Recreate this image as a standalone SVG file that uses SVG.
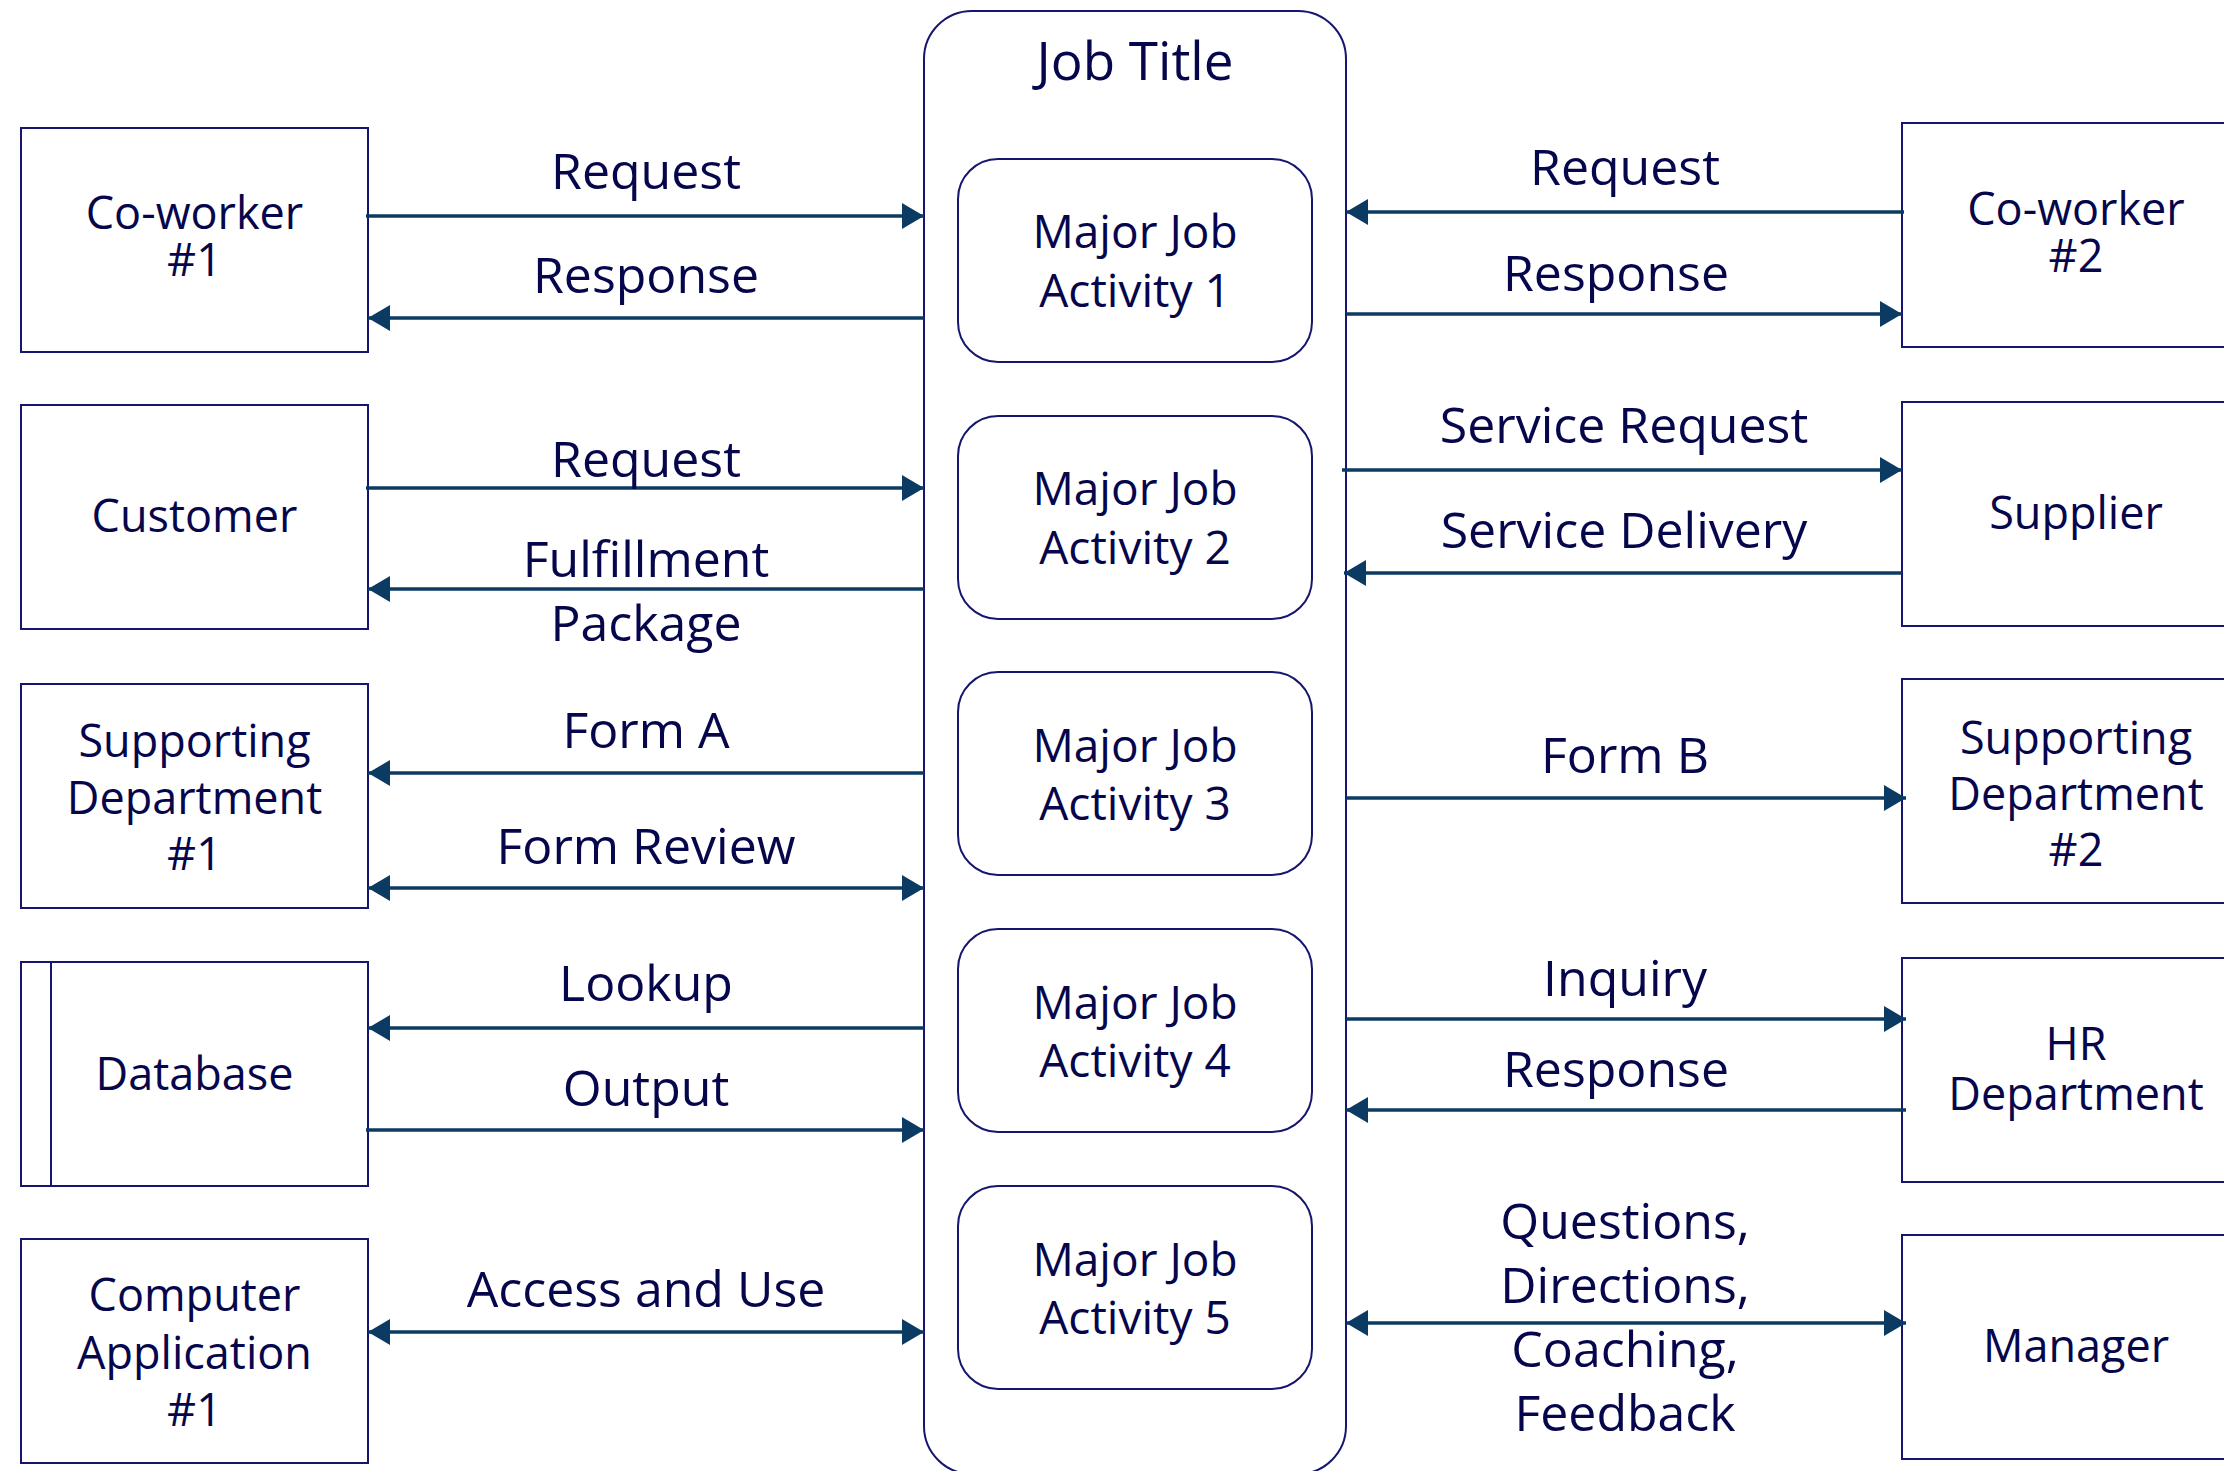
<svg xmlns="http://www.w3.org/2000/svg" width="2224" height="1471" viewBox="0 0 2224 1471">
<style>
  .box { fill: #ffffff; stroke: #16166e; stroke-width: 2; }
  .rbox { fill: #ffffff; stroke: #16166e; stroke-width: 2; }
  .conn { stroke: #0b3a63; stroke-width: 3.4; fill: none; }
  text { font-family: "Open Sans", "Noto Sans", sans-serif; fill: #06064c; text-anchor: middle; }
  .lbl { font-size: 50px; }
  .bx { font-size: 45px; }
  .act { font-size: 46px; }
  .title { font-size: 53px; }
</style>
<defs>
  <marker id="ah" markerWidth="22" markerHeight="26" refX="22" refY="13" orient="auto-start-reverse" markerUnits="userSpaceOnUse">
    <path d="M0,0 L22,13 L0,26 Z" fill="#0b3a63"/>
  </marker>
</defs>
<rect width="2224" height="1471" fill="#ffffff"/>

<!-- Central job title container -->
<g id="job-title">
  <rect x="924" y="11" width="422" height="1463" rx="48" ry="48" class="rbox"/>
  <text x="1135" y="80" class="title">Job Title</text>
</g>

<g id="activity-1">
  <rect x="958" y="159" width="354" height="203" rx="40" ry="40" class="rbox"/>
  <text x="1135" y="248" class="act">Major Job</text>
  <text x="1135" y="307" class="act">Activity 1</text>
</g>
<g id="activity-2">
  <rect x="958" y="416" width="354" height="203" rx="40" ry="40" class="rbox"/>
  <text x="1135" y="505" class="act">Major Job</text>
  <text x="1135" y="564" class="act">Activity 2</text>
</g>
<g id="activity-3">
  <rect x="958" y="672" width="354" height="203" rx="40" ry="40" class="rbox"/>
  <text x="1135" y="762" class="act">Major Job</text>
  <text x="1135" y="820" class="act">Activity 3</text>
</g>
<g id="activity-4">
  <rect x="958" y="929" width="354" height="203" rx="40" ry="40" class="rbox"/>
  <text x="1135" y="1019" class="act">Major Job</text>
  <text x="1135" y="1077" class="act">Activity 4</text>
</g>
<g id="activity-5">
  <rect x="958" y="1186" width="354" height="203" rx="40" ry="40" class="rbox"/>
  <text x="1135" y="1276" class="act">Major Job</text>
  <text x="1135" y="1334" class="act">Activity 5</text>
</g>

<!-- Left nodes -->
<g id="coworker-1">
  <rect x="21" y="128" width="347" height="224" class="box"/>
  <text x="194.5" y="229" class="bx">Co-worker</text>
  <text x="194.5" y="276" class="bx">#1</text>
</g>
<g id="customer">
  <rect x="21" y="405" width="347" height="224" class="box"/>
  <text x="194.5" y="532" class="bx">Customer</text>
</g>
<g id="supporting-dept-1">
  <rect x="21" y="684" width="347" height="224" class="box"/>
  <text x="194.5" y="757" class="bx">Supporting</text>
  <text x="194.5" y="814" class="bx">Department</text>
  <text x="194.5" y="870" class="bx">#1</text>
</g>
<g id="database">
  <rect x="21" y="962" width="347" height="224" class="box"/>
  <line x1="51" y1="962" x2="51" y2="1186" stroke="#16166e" stroke-width="2"/>
  <text x="194.5" y="1090" class="bx">Database</text>
</g>
<g id="computer-app-1">
  <rect x="21" y="1239" width="347" height="224" class="box"/>
  <text x="194.5" y="1311" class="bx">Computer</text>
  <text x="194.5" y="1369" class="bx">Application</text>
  <text x="194.5" y="1426" class="bx">#1</text>
</g>

<!-- Right nodes (clipped at right edge) -->
<g id="coworker-2">
  <rect x="1902" y="123" width="348" height="224" class="box"/>
  <text x="2076" y="225" class="bx">Co-worker</text>
  <text x="2076" y="272" class="bx">#2</text>
</g>
<g id="supplier">
  <rect x="1902" y="402" width="348" height="224" class="box"/>
  <text x="2076" y="529" class="bx">Supplier</text>
</g>
<g id="supporting-dept-2">
  <rect x="1902" y="679" width="348" height="224" class="box"/>
  <text x="2076" y="754" class="bx">Supporting</text>
  <text x="2076" y="810" class="bx">Department</text>
  <text x="2076" y="866" class="bx">#2</text>
</g>
<g id="hr-department">
  <rect x="1902" y="958" width="348" height="224" class="box"/>
  <text x="2076" y="1060" class="bx">HR</text>
  <text x="2076" y="1110" class="bx">Department</text>
</g>
<g id="manager">
  <rect x="1902" y="1235" width="348" height="224" class="box"/>
  <text x="2076" y="1362" class="bx">Manager</text>
</g>

<!-- Connectors -->
<g id="connectors">
  <!-- left side -->
  <line x1="366" y1="216" x2="924" y2="216" class="conn" marker-end="url(#ah)"/>
  <line x1="924" y1="318" x2="368" y2="318" class="conn" marker-end="url(#ah)"/>
  <line x1="366" y1="488" x2="924" y2="488" class="conn" marker-end="url(#ah)"/>
  <line x1="924" y1="589" x2="368" y2="589" class="conn" marker-end="url(#ah)"/>
  <line x1="924" y1="773" x2="368" y2="773" class="conn" marker-end="url(#ah)"/>
  <line x1="368" y1="888" x2="924" y2="888" class="conn" marker-start="url(#ah)" marker-end="url(#ah)"/>
  <line x1="924" y1="1028" x2="368" y2="1028" class="conn" marker-end="url(#ah)"/>
  <line x1="366" y1="1130" x2="924" y2="1130" class="conn" marker-end="url(#ah)"/>
  <line x1="368" y1="1332" x2="924" y2="1332" class="conn" marker-start="url(#ah)" marker-end="url(#ah)"/>
  <!-- right side -->
  <line x1="1904" y1="212" x2="1346" y2="212" class="conn" marker-end="url(#ah)"/>
  <line x1="1346" y1="314" x2="1902" y2="314" class="conn" marker-end="url(#ah)"/>
  <line x1="1342" y1="470" x2="1902" y2="470" class="conn" marker-end="url(#ah)"/>
  <line x1="1902" y1="573" x2="1344" y2="573" class="conn" marker-end="url(#ah)"/>
  <line x1="1346" y1="798" x2="1906" y2="798" class="conn" marker-end="url(#ah)"/>
  <line x1="1346" y1="1019" x2="1906" y2="1019" class="conn" marker-end="url(#ah)"/>
  <line x1="1906" y1="1110" x2="1346" y2="1110" class="conn" marker-end="url(#ah)"/>
  <line x1="1346" y1="1323" x2="1906" y2="1323" class="conn" marker-start="url(#ah)" marker-end="url(#ah)"/>

  <!-- labels -->
  <text x="646" y="189" class="lbl">Request</text>
  <text x="646" y="293" class="lbl">Response</text>
  <text x="646" y="477" class="lbl">Request</text>
  <text x="646" y="577" class="lbl">Fulfillment</text>
  <text x="646" y="641" class="lbl">Package</text>
  <text x="646" y="748" class="lbl">Form A</text>
  <text x="646" y="864" class="lbl">Form Review</text>
  <text x="646" y="1001" class="lbl">Lookup</text>
  <text x="646" y="1106" class="lbl">Output</text>
  <text x="646" y="1307" class="lbl">Access and Use</text>

  <text x="1625" y="185" class="lbl">Request</text>
  <text x="1616" y="291" class="lbl">Response</text>
  <text x="1624" y="443" class="lbl">Service Request</text>
  <text x="1624" y="548" class="lbl">Service Delivery</text>
  <text x="1625" y="773" class="lbl">Form B</text>
  <text x="1625" y="996" class="lbl">Inquiry</text>
  <text x="1616" y="1087" class="lbl">Response</text>
  <text x="1625" y="1239" class="lbl">Questions,</text>
  <text x="1625" y="1303" class="lbl">Directions,</text>
  <text x="1625" y="1367" class="lbl">Coaching,</text>
  <text x="1625" y="1431" class="lbl">Feedback</text>
</g>
</svg>
